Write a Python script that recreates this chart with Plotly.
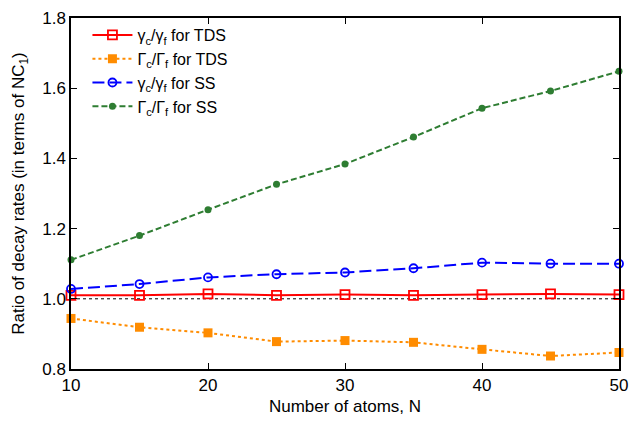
import plotly.graph_objects as go

N = [10, 15, 20, 25, 30, 35, 40, 45, 50]
tds_gamma = [1.010, 1.010, 1.014, 1.010, 1.012, 1.010, 1.012, 1.014, 1.012]
tds_Gamma = [0.944, 0.919, 0.903, 0.878, 0.881, 0.876, 0.856, 0.837, 0.847]
ss_gamma = [1.028, 1.042, 1.061, 1.070, 1.075, 1.087, 1.103, 1.100, 1.100]
ss_Gamma = [1.111, 1.180, 1.254, 1.326, 1.384, 1.461, 1.543, 1.592, 1.648]
ref_level = [1.0, 1.0]
ref_x = [10, 50]

fig = go.Figure()
fig.add_trace(go.Scatter(x=ref_x, y=ref_level, mode="lines", showlegend=False,
                         line=dict(color="black", width=1, dash="dot"), hoverinfo="skip"))
fig.add_trace(go.Scatter(x=N, y=tds_gamma, mode="lines+markers",
                         name="γ<sub>c</sub>/γ<sub>f</sub> for TDS",
                         line=dict(color="#ff0000", width=2),
                         marker=dict(symbol="square-open", size=9, color="#ff0000", line=dict(width=1.8)),
                         cliponaxis=False))
fig.add_trace(go.Scatter(x=N, y=tds_Gamma, mode="lines+markers",
                         name="Γ<sub>c</sub>/Γ<sub>f</sub> for TDS",
                         line=dict(color="#ff8c00", width=2, dash="dot"),
                         marker=dict(symbol="square", size=9, color="#ff8c00"),
                         cliponaxis=False))
fig.add_trace(go.Scatter(x=N, y=ss_gamma, mode="lines+markers",
                         name="γ<sub>c</sub>/γ<sub>f</sub> for SS",
                         line=dict(color="#0000ff", width=2, dash="12px,5px"),
                         marker=dict(symbol="circle-open", size=8, color="#0000ff", line=dict(width=1.8)),
                         cliponaxis=False))
fig.add_trace(go.Scatter(x=N, y=ss_Gamma, mode="lines+markers",
                         name="Γ<sub>c</sub>/Γ<sub>f</sub> for SS",
                         line=dict(color="#2e7d32", width=2, dash="6px,3px"),
                         marker=dict(symbol="circle", size=7, color="#2e7d32"),
                         cliponaxis=False))

axis_common = dict(showline=True, linecolor="black", linewidth=1.5, mirror="ticks",
                   ticks="inside", ticklen=6, tickcolor="black", showgrid=False, zeroline=False,
                   tickfont=dict(size=17, color="black"), ticklabeloverflow="allow")
fig.update_xaxes(range=[10, 50], dtick=10, tick0=10,
                 title=dict(text="Number of atoms, N", font=dict(size=17, color="black"), standoff=6),
                 **axis_common)
fig.update_yaxes(range=[0.8, 1.8], dtick=0.2, tick0=0.8, tickformat=".1f",
                 title=dict(text="Ratio of decay rates (in terms of NC<sub>1</sub>)",
                            font=dict(size=17, color="black"), standoff=13),
                 **axis_common)
fig.update_layout(width=637, height=426, margin=dict(l=71, r=10, t=9, b=57),
                  paper_bgcolor="white", plot_bgcolor="white",
                  font=dict(family="Liberation Sans, Arial, sans-serif", color="black"),
                  legend=dict(x=0.03, y=1.0, xanchor="left", yanchor="top",
                              bgcolor="rgba(0,0,0,0)", font=dict(size=16),
                              tracegroupgap=0, itemwidth=40))
fig.write_html("out.html")
